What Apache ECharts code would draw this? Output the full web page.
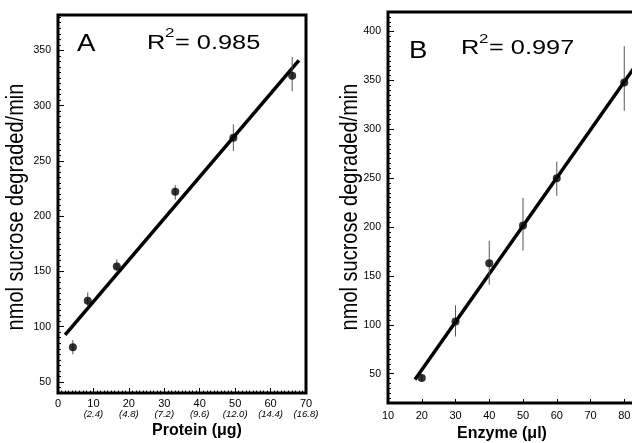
<!DOCTYPE html>
<html><head><meta charset="utf-8">
<script src="https://cdn.jsdelivr.net/npm/echarts@6/dist/echarts.min.js"></script>
<style>html,body{margin:0;padding:0;background:#fff}#c{width:632px;height:443px}</style>
</head><body><div id="c"></div>
<script>
// Panel A
const proteinA = [4.2, 8.4, 16.6, 33.1, 49.5, 66.1];
const rateA = [81.5, 123.5, 154.5, 222, 271, 327];
const errLowA = [75, 118, 150, 215, 259, 313];
const errHighA = [88, 131, 161, 228, 283, 344];
const fitA = [[2, 92.5], [68, 341]];
const xTicksA = [0, 10, 20, 30, 40, 50, 60, 70];
const xSubLabelsA = ['', '(2.4)', '(4.8)', '(7.2)', '(9.6)', '(12.0)', '(14.4)', '(16.8)'];
const yTicksA = [50, 100, 150, 200, 250, 300, 350];
// Panel B
const enzymeB = [20, 30, 40, 50, 60, 80];
const rateB = [45.5, 103.5, 163, 201.5, 250, 348];
const errLowB = [42, 88, 141, 176, 232, 319];
const errHighB = [49, 120, 186, 230, 267, 385];
const fitB = [[18, 44], [88, 388]];
const yTicksB = [50, 100, 150, 200, 250, 300, 350, 400];

const FF = 'Liberation Sans, Arial, Helvetica, sans-serif';
const chart = echarts.init(document.getElementById('c'));

function errRender(params, api) {
  const x = api.value(0), lo = api.value(1), hi = api.value(2);
  const p1 = api.coord([x, lo]), p2 = api.coord([x, hi]);
  return { type: 'line', shape: { x1: p1[0], y1: p1[1], x2: p2[0], y2: p2[1] },
    style: { stroke: '#555', lineWidth: 1 } };
}
const noSplit = { show: false };
function mainY(grid, min, max, ticks, margin) {
  return { type: 'value', gridIndex: grid, min: min, max: max, position: 'left',
    axisLine: { show: false }, splitLine: noSplit,
    axisTick: { inside: true, length: 6, customValues: ticks, lineStyle: { color: '#000', width: 1 } },
    axisLabel: { customValues: ticks, margin: margin, fontSize: 10.5, color: '#000', fontFamily: FF } };
}
function minorY(grid, min, max) {
  return { type: 'value', gridIndex: grid, min: min, max: max, interval: 5, position: 'left',
    axisLine: { show: false }, splitLine: noSplit, axisLabel: { show: false },
    axisTick: { inside: true, length: 3, lineStyle: { color: '#000', width: 1 } } };
}

const option = {
  animation: false,
  backgroundColor: '#fff',
  textStyle: { fontFamily: FF },
  grid: [
    { left: 58, top: 15, width: 248, height: 378, show: true, borderColor: '#000', borderWidth: 3, outerBoundsMode: 'none', containLabel: false },
    { left: 388, top: 12, width: 270, height: 391, show: true, borderColor: '#000', borderWidth: 3, outerBoundsMode: 'none', containLabel: false }
  ],
  xAxis: [
    { type: 'value', gridIndex: 0, min: 0, max: 70, interval: 10,
      axisLine: { show: false }, splitLine: noSplit,
      axisTick: { inside: true, length: 5, lineStyle: { color: '#000', width: 1 } },
      minorTick: { show: true, splitNumber: 10, length: 2.5, lineStyle: { color: '#000', width: 1 } },
      minorSplitLine: { show: false },
      axisLabel: { margin: 5, color: '#000',
        formatter: function (v) {
          const i = xTicksA.indexOf(v);
          const sub = i >= 0 ? xSubLabelsA[i] : '';
          return sub ? '{a|' + v + '}\n{b|' + sub + '}' : '{a|' + v + '}';
        },
        rich: { a: { fontSize: 11, lineHeight: 11, color: '#000', fontFamily: FF },
                b: { fontSize: 9.5, lineHeight: 11, fontStyle: 'italic', color: '#000', fontFamily: FF } } } },
    { type: 'value', gridIndex: 1, min: 10, max: 90, interval: 10,
      axisLine: { show: false }, splitLine: noSplit,
      axisTick: { inside: true, length: 4, lineStyle: { color: '#000', width: 1 } },
      axisLabel: { margin: 7, fontSize: 11, color: '#000', fontFamily: FF } }
  ],
  yAxis: [
    mainY(0, 40, 382, yTicksA, 7),
    minorY(0, 40, 382),
    mainY(1, 20, 420, yTicksB, 7),
    minorY(1, 20, 420)
  ],
  series: [
    { type: 'line', xAxisIndex: 0, yAxisIndex: 0, data: fitA, symbol: 'none',
      lineStyle: { color: '#000', width: 3.5 }, z: 2 },
    { type: 'custom', xAxisIndex: 0, yAxisIndex: 0, renderItem: errRender,
      data: proteinA.map((x, i) => [x, errLowA[i], errHighA[i]]), encode: { x: 0, y: [1, 2] }, z: 3 },
    { type: 'scatter', xAxisIndex: 0, yAxisIndex: 0, symbolSize: 8,
      itemStyle: { color: '#000' }, data: proteinA.map((x, i) => [x, rateA[i]]), z: 4 },
    { type: 'line', xAxisIndex: 1, yAxisIndex: 2, data: fitB, symbol: 'none',
      lineStyle: { color: '#000', width: 3.5 }, z: 2 },
    { type: 'custom', xAxisIndex: 1, yAxisIndex: 2, renderItem: errRender,
      data: enzymeB.map((x, i) => [x, errLowB[i], errHighB[i]]), encode: { x: 0, y: [1, 2] }, z: 3 },
    { type: 'scatter', xAxisIndex: 1, yAxisIndex: 2, symbolSize: 8,
      itemStyle: { color: '#000' }, data: enzymeB.map((x, i) => [x, rateB[i]]), z: 4 }
  ],
  graphic: [
    { type: 'text', x: 77, y: 45, scaleX: 1.2, style: { text: 'A', fontSize: 23, fontFamily: FF, fill: '#000', align: 'left', verticalAlign: 'middle' } },
    { type: 'text', x: 147, y: 43.5, scaleX: 1.3, style: { text: 'R', fontSize: 19.5, fontFamily: FF, fill: '#000', align: 'left', verticalAlign: 'middle' } },
    { type: 'text', x: 165, y: 33.5, scaleX: 1.3, style: { text: '2', fontSize: 13, fontFamily: FF, fill: '#000', align: 'left', verticalAlign: 'middle' } },
    { type: 'text', x: 175, y: 43.5, scaleX: 1.3, style: { text: '= 0.985', fontSize: 19.5, fontFamily: FF, fill: '#000', align: 'left', verticalAlign: 'middle' } },
    { type: 'text', x: 409, y: 51.5, scaleX: 1.2, style: { text: 'B', fontSize: 23, fontFamily: FF, fill: '#000', align: 'left', verticalAlign: 'middle' } },
    { type: 'text', x: 461, y: 49, scaleX: 1.3, style: { text: 'R', fontSize: 19.5, fontFamily: FF, fill: '#000', align: 'left', verticalAlign: 'middle' } },
    { type: 'text', x: 479, y: 39, scaleX: 1.3, style: { text: '2', fontSize: 13, fontFamily: FF, fill: '#000', align: 'left', verticalAlign: 'middle' } },
    { type: 'text', x: 489, y: 49, scaleX: 1.3, style: { text: '= 0.997', fontSize: 19.5, fontFamily: FF, fill: '#000', align: 'left', verticalAlign: 'middle' } },
    { type: 'text', x: 17, y: 207, rotation: Math.PI / 2, scaleY: 1.15, style: { text: 'nmol sucrose degraded/min', fontSize: 20, fontFamily: FF, fill: '#000', align: 'center', verticalAlign: 'middle' } },
    { type: 'text', x: 351, y: 207, rotation: Math.PI / 2, scaleY: 1.15, style: { text: 'nmol sucrose degraded/min', fontSize: 20, fontFamily: FF, fill: '#000', align: 'center', verticalAlign: 'middle' } },
    { type: 'text', x: 197, y: 431, style: { text: 'Protein (\u03bcg)', fontSize: 16, fontWeight: 'bold', fontFamily: FF, fill: '#000', align: 'center', verticalAlign: 'middle' } },
    { type: 'text', x: 502, y: 434, style: { text: 'Enzyme (\u03bcl)', fontSize: 16, fontWeight: 'bold', fontFamily: FF, fill: '#000', align: 'center', verticalAlign: 'middle' } }
  ]
};
chart.setOption(option);
</script></body></html>
